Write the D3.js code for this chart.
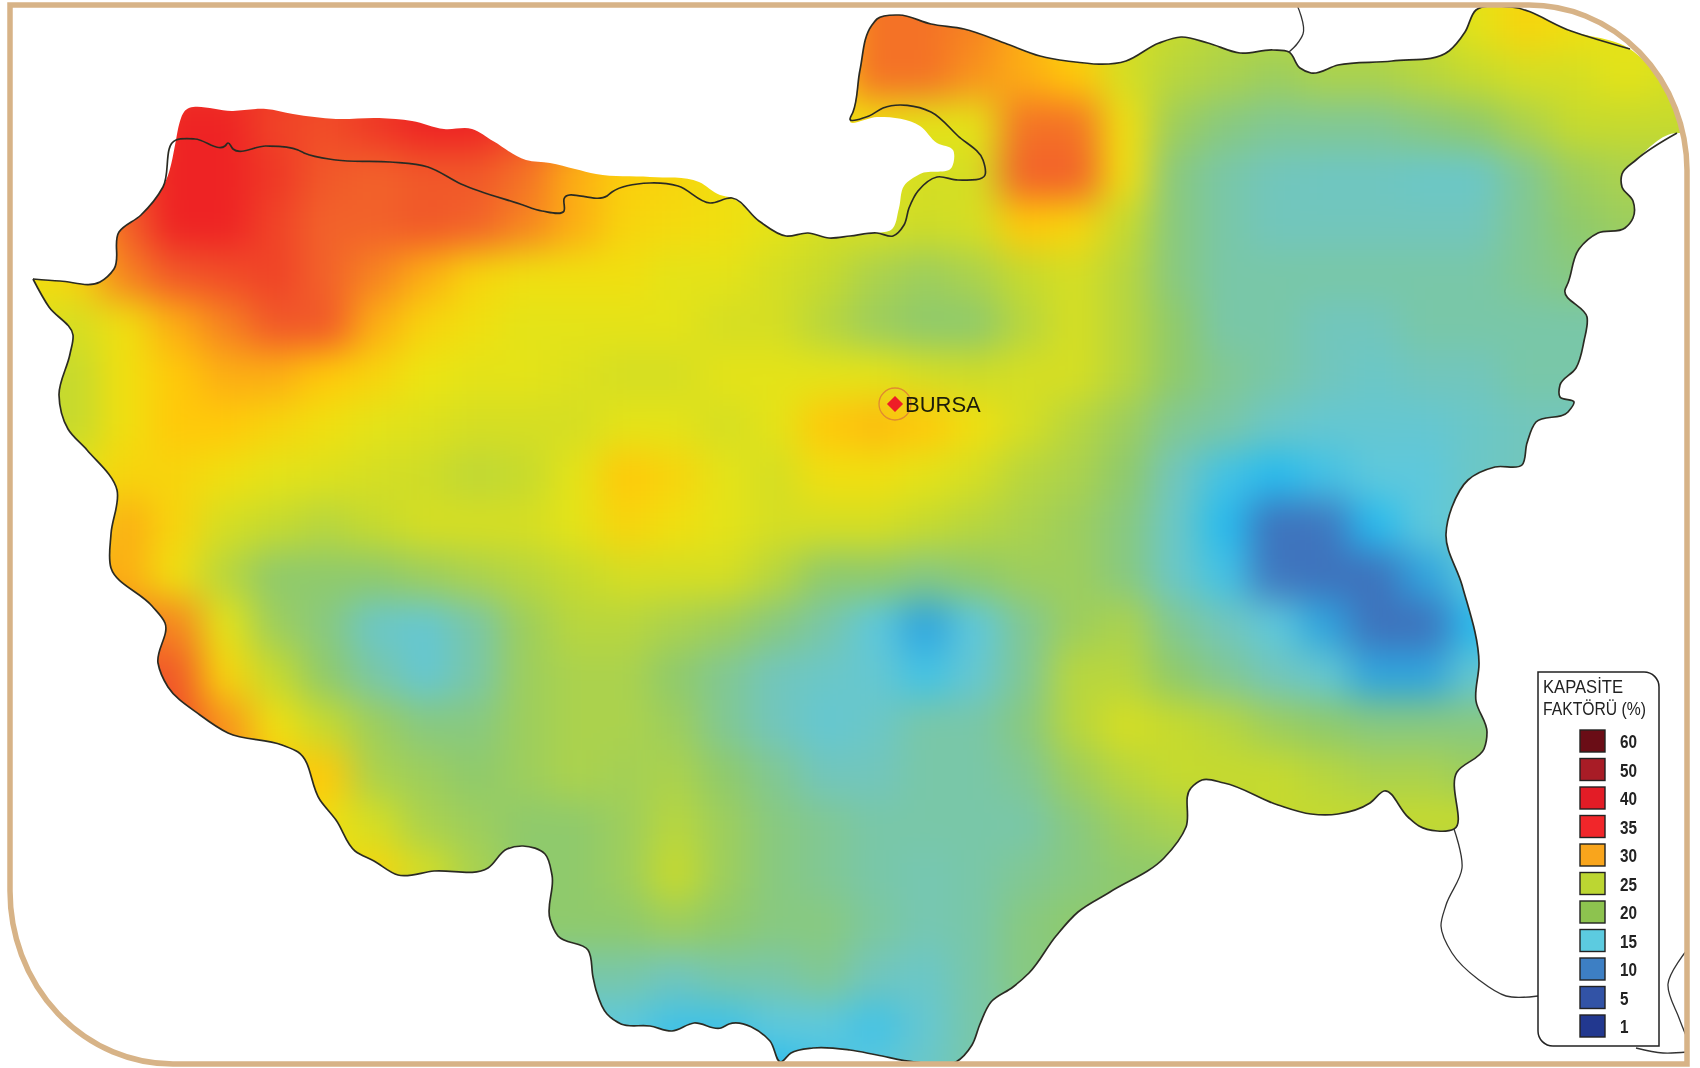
<!DOCTYPE html>
<html>
<head>
<meta charset="utf-8">
<title>Bursa kapasite faktörü</title>
<script src="https://cdnjs.cloudflare.com/ajax/libs/d3/7.8.5/d3.min.js"></script>
<style>
  html, body { margin: 0; padding: 0; background: #fff; }
  svg { display: block; }
  text { font-family: "Liberation Sans", Arial, sans-serif; }
</style>
</head>
<body>
<div id="chart"></div>
<script>
// capacity factor (%), one row per 50px band, north to south
var capacityRows = [
  [27,27,30,38,39,39,38,38,39,40,37,33,30,29,28,28,30,34,34,33,31,29,26,25,24,24,24,24,25,27,29,28,27,27],
  [27,27,30,39,39,39,38,38,40,41,37,33,30,29,28,28,29,34,34,32,31,30,26,24,23,22,23,23,24,25,26,26,27,26],
  [28,29,33,41,41,38,37,39,42,43,38,33,30,29,28,28,28,28,27,27,34,34,28,22,20,19,19,19,20,21,23,25,25,25],
  [28,30,37,42,42,39,36,35,36,36,34,31,29.5,29,28,28,27,27,26,26,35,35,28,20,18,17,16.5,16.5,16,16,19,22,23,23],
  [29,30,35,42,43,38,35,35,36,35,33,31,29,28.5,28,27,26,26,25.5,26,30,29,25,20,18,17,17,17,17,17,19,21,22,22],
  [28,29,33,36,37,38,35,33,31,29,28,28,28,27,27,26,25,23,22,23,25,26,24,20,18,18,18,18,18,18,19,20,20,20],
  [27,26,28,31,33,36,36,31,29,28,27,27,27,27,26,26,24,22,21,21,24,26,24,21,18,18,17,17,18,18,18,18,18,18],
  [25,25,28,30,31,31,30,29,27.5,27,27,26.5,26,26,27,27,27,27,26,25.5,26,26,24,21,19,18,17,16,17,17,18,18,18,18],
  [25,25,28,30,30,29,28,27,26.5,26,26,26,27,27,26,27,30,30.5,30,28,26,24,22,19,18,16,15,15,15,16,17,17,17,17],
  [27,27,29,29,28,27,26.5,26,25.5,24.5,25,27,30,29,27,26,28,28,27,26,24,23,21,17,13,12,13,14,14,16,17,17,17,17],
  [27,27,31,29,26,25,24,25,26,26,26,27,29,28,27,26,26,26,25,24,23,22,20,16,12,8.5,9,12,14,16,16,16,16,16],
  [31,31,31,28,24,21,21,21,22,23,24,25,26,26,26,24,21,21,20,21,22,22,20,16,13,9,8.5,8.5,11,14,14,14,14,14],
  [33,33,33,33,27,22,20,16,15,18,22,24,24,23,22,20,18,14,11,14,19,22,23,19,17,14,11,8.5,8.5,12,13,13,13,13],
  [36,36,36,36,29,25,21,18,15,18,22,23,23,21,19,17,16,15,13,15,19,24,24,21,19,17,15,11,11,15,15,15,15,15],
  [37,37,37,37,32,28,25,22,20,20,22,23,23,22,19,17,15,16,18,18,20,24,26,25,24,22,21,20,20,20,20,20,20,20],
  [33,33,33,33,33,30,30,23,22,21,22,23,22.5,23,21,19,17,17,18,18,19,22,24,25,25,25,24,23,23,22,22,22,22,22],
  [30,30,30,30,30,30,28,26,23,22,21,21,22,24,22,20,19,18,18,18,18,20,22,23,24,25,25,25,25,25,25,25,25,25],
  [27,27,27,27,27,27,27,29,26,23,21,21,22,25,22,20,19,18,17.5,18,19,20,21,21,21,21,21,21,21,21,21,21,21,21],
  [21,21,21,21,21,21,21,21,21,21,21,21,21,22,21,20,20,18.5,17.5,18,20,21,21,21,21,21,21,21,21,21,21,21,21,21],
  [18,18,18,18,18,18,18,18,18,18,18,18,18,17,18,18,19,17,16,18,20,20,20,20,20,20,20,20,20,20,20,20,20,20],
  [14,14,14,14,14,14,14,14,14,14,14,14,14,13,13,14,14,13,15,18,19,19,19,19,19,19,19,19,19,19,19,19,19,19],
  [14,14,14,14,14,14,14,14,14,14,14,14,14,12,12,12,13,14,16,18,18,18,18,18,18,18,18,18,18,18,18,18,18,18]
];

var colorStops = [1, 5, 9, 12, 14, 17, 21, 25, 27.5, 30, 32, 35, 41, 46, 52, 60];
var colorValues = ["#21388f", "#3352a6", "#3f76bf", "#27bbee", "#5ec8dc", "#72c6bc", "#8fca6c", "#c6da2e",
                   "#ece512", "#ffc90a", "#f8931d", "#f2622a", "#ee2324", "#ee2324", "#a81c28", "#6b0a12"];

var legendLabels = ["60", "50", "40", "35", "30", "25", "20", "15", "10", "5", "1"];
var legendColors = ["#6b0a12", "#a81c28", "#e31b25", "#f1272a", "#f9a51a", "#bcd631",
                    "#8dc34f", "#5ccbe0", "#3c7fc4", "#3352a6", "#21388f"];
var legendTitle = ["KAPASİTE", "FAKTÖRÜ (%)"];
var legendTitleWidths = [80, 103];

// map outlines, in map units
var westShore = [[33,279],[60,281],[100,282],[114,269],[119,232],[141,215],[163,187],[176,140]];
var seaEdge = [[178,129],[184,112],[233,111],[266,109],[293,114],[336,119],[379,118],[412,121],[444,129],[472,129],
               [493,141],[526,160],[550,163],[575,169],[596,174],[650,177],[699,182],[720,195],[732,198]];
var southMarmara = [[195,139],[225,146],[228,143],[233,149],[266,146],[298,150],[304,153],[336,160],[390,162],[428,167],
               [461,184],[520,204],[542,211],[564,211],[564,199],[607,196],[612,192],[650,183],[678,186],[710,203],[732,198]];
var shoreToBay = [[759,221],[786,236],[808,233],[829,238],[850,236],[877,233]];
var bayFill = [[891,230],[899,208],[904,186],[920,174],[952,167],[953,150],[937,143],[920,126],[877,117],[850,121]];
var bayLine = [[893,236],[904,225],[909,208],[918,191],[937,177],[958,180],[985,175],[983,160],[958,136],[931,112],
               [883,108],[869,116],[850,119]];
var northShore = [[853,112],[860,70],[872,25],[877,19],[899,15],[931,24],[964,29],[1007,44],[1040,56],[1067,61],[1126,61],
               [1159,43],[1181,37],[1208,43],[1240,53],[1273,50],[1289,52],[1300,68],[1311,73],[1338,65],[1392,61],
               [1449,51],[1465,32],[1476,10],[1511,7],[1571,31],[1630,49]];
var frameEdge = [[1655,73],[1672,104],[1680,133]];
var eastShore = [[1677,133],[1636,160],[1622,174],[1622,187],[1633,201],[1633,218],[1625,228],[1598,233],[1579,249],
               [1568,283],[1565,290],[1587,317],[1584,341],[1576,368],[1560,385],[1560,397],[1574,402],[1568,412],
               [1536,422],[1527,443],[1522,465],[1495,467],[1468,480],[1452,507],[1446,534],[1462,585],[1479,663],
               [1476,701],[1487,732],[1484,749],[1457,772],[1454,829]];
var southShore = [[1419,826],[1408,817],[1384,791],[1370,803],[1338,814],[1311,814],[1278,805],[1224,783],[1202,780],
               [1191,788],[1186,827],[1164,858],[1110,892],[1078,912],[1056,936],[1029,973],[1013,987],[991,1002],
               [980,1024],[972,1045],[956,1062],[915,1062],[877,1055],[850,1050],[813,1048],[791,1053],[781,1062],
               [770,1041],[729,1024],[721,1028],[694,1023],[672,1031],[650,1026],[621,1024],[607,1014],[596,990],
               [593,977],[588,950],[558,936],[550,919],[552,875],[545,854],[523,846],[507,849],[488,868],[434,871],
               [398,875],[374,861],[355,851],[336,820],[320,800],[298,752],[282,745],[228,733],[200,715],[168,687],
               [158,663],[165,623],[152,606],[111,568],[111,534],[117,490],[87,450],[68,429],[59,395],[70,354],[73,335],
               [49,307],[33,279]];
var neighbourLines = [
  [[1297,5],[1303,34],[1297,44],[1289,52]],
  [[1454,829],[1462,868],[1446,905],[1441,926],[1452,953],[1479,980],[1506,996],[1538,996]],
  [[1636,1048],[1663,1053],[1687,1052]],
  [[1687,950],[1668,984],[1679,1018],[1687,1038]]
];
var bursaPoint = [895, 404];

var width = 1700, height = 1068;

var svg = d3.select("#chart").append("svg")
    .attr("width", width)
    .attr("height", height);

var x = d3.scaleLinear().domain([0, 1700]).range([0, width]);
var y = d3.scaleLinear().domain([0, 1068]).range([0, height]);
var col = d3.scaleBand().domain(d3.range(capacityRows[0].length)).range([0, width]);
var row = d3.scaleBand().domain(d3.range(capacityRows.length)).range([0, 50 * capacityRows.length]);
var color = d3.scaleLinear().domain(colorStops).range(colorValues).interpolate(d3.interpolateRgb);

var line = d3.line()
    .x(function(d) { return x(d[0]); })
    .y(function(d) { return y(d[1]); })
    .curve(d3.curveCatmullRom.alpha(1));

var fillOutline = westShore.concat(seaEdge, shoreToBay, bayFill, northShore, frameEdge, eastShore, southShore);
var coastOne = westShore.concat(southMarmara, shoreToBay, bayLine, northShore);
var coastTwo = eastShore.concat(southShore);

var defs = svg.append("defs");
defs.append("clipPath").attr("id", "province")
  .append("path").attr("d", line(fillOutline) + "Z");
var blur = defs.append("filter").attr("id", "soft")
    .attr("filterUnits", "userSpaceOnUse")
    .attr("x", -100).attr("y", -100)
    .attr("width", width + 200).attr("height", height + 200)
    .attr("color-interpolation-filters", "sRGB");
blur.append("feGaussianBlur").attr("stdDeviation", 18);

// the scan is a little soft, lines and letters too
var scan = defs.append("filter").attr("id", "scan")
    .attr("filterUnits", "userSpaceOnUse")
    .attr("x", 0).attr("y", 0)
    .attr("width", width).attr("height", height);
scan.append("feGaussianBlur").attr("stdDeviation", 0.5);

var cells = [];
capacityRows.forEach(function(values, j) {
    values.forEach(function(v, i) {
        cells.push({i: i, j: j, value: v});
    });
});

// first and last bands run on past the page so the blur does not fade at the edges
var pad = 80;
svg.append("g").attr("clip-path", "url(#province)")
  .append("g").attr("filter", "url(#soft)")
    .selectAll("rect")
    .data(cells)
    .enter().append("rect")
    .attr("x", function(d) { return col(d.i) - (d.i == 0 ? pad : 0); })
    .attr("y", function(d) { return row(d.j) - (d.j == 0 ? pad : 0); })
    .attr("width", function(d) { return col.bandwidth() + 0.5 + (d.i == 0 || d.i == capacityRows[0].length - 1 ? pad : 0); })
    .attr("height", function(d) { return row.bandwidth() + 0.5 + (d.j == 0 || d.j == capacityRows.length - 1 ? pad : 0); })
    .attr("shape-rendering", "crispEdges")
    .attr("fill", function(d) { return color(d.value); });

var soft = svg.append("g").attr("filter", "url(#scan)");

soft.selectAll("path.coast")
    .data([coastOne, coastTwo])
    .enter().append("path")
    .attr("class", "coast")
    .attr("d", line)
    .attr("fill", "none")
    .attr("stroke", "#2c2c24")
    .attr("stroke-width", 1.7)
    .attr("stroke-linejoin", "round");

soft.selectAll("path.neighbour")
    .data(neighbourLines)
    .enter().append("path")
    .attr("class", "neighbour")
    .attr("d", line)
    .attr("fill", "none")
    .attr("stroke", "#333")
    .attr("stroke-width", 1.3);

// tan frame, square on top left and bottom right
soft.append("path")
    .attr("d", "M10,5H1527A158,166 0 0 1 1687,170V1064H173A163,173 0 0 1 10,891Z")
    .attr("fill", "none")
    .attr("stroke", "#d7b387")
    .attr("stroke-width", 5.5);

// city marker
var city = soft.append("g")
    .attr("transform", "translate(" + x(bursaPoint[0]) + "," + y(bursaPoint[1]) + ")");
city.append("circle")
    .attr("r", 16)
    .attr("fill", "none")
    .attr("stroke", "#e08a30")
    .attr("stroke-width", 1.3);
city.append("path")
    .attr("d", d3.symbol().type(d3.symbolSquare).size(130))
    .attr("transform", "rotate(45)")
    .attr("fill", "#ee1c25");
city.append("text")
    .attr("x", 10)
    .attr("y", 8)
    .attr("font-size", 22)
    .attr("fill", "#1f1f08")
    .text("BURSA");

// legend
var legend = soft.append("g");
legend.append("path")
    .attr("d", "M1538,672H1644A15,15 0 0 1 1659,687V1046H1553A15,15 0 0 1 1538,1031Z")
    .attr("fill", "#fff")
    .attr("stroke", "#222")
    .attr("stroke-width", 1.5);

legend.selectAll("text.title")
    .data(legendTitle)
    .enter().append("text")
    .attr("class", "title")
    .attr("x", 1543)
    .attr("y", function(d, i) { return 693 + i * 22; })
    .attr("font-size", 18)
    .attr("textLength", function(d, i) { return legendTitleWidths[i]; })
    .attr("lengthAdjust", "spacingAndGlyphs")
    .attr("fill", "#222")
    .text(function(d) { return d; });

var legendY = d3.scalePoint().domain(legendLabels).range([741, 1026]);

var legendRows = legend.selectAll("g.entry")
    .data(legendLabels)
    .enter().append("g")
    .attr("class", "entry")
    .attr("transform", function(d) { return "translate(1580," + legendY(d) + ")"; });

legendRows.append("rect")
    .attr("y", -11)
    .attr("width", 25)
    .attr("height", 22)
    .attr("fill", function(d, i) { return legendColors[i]; })
    .attr("stroke", "#222")
    .attr("stroke-width", 1.4);

legendRows.append("text")
    .attr("x", 40)
    .attr("y", 7)
    .attr("font-size", 18)
    .attr("font-weight", "bold")
    .attr("textLength", function(d) { return d.length * 8.5; })
    .attr("lengthAdjust", "spacingAndGlyphs")
    .attr("fill", "#222")
    .text(function(d) { return d; });
</script>
</body>
</html>
